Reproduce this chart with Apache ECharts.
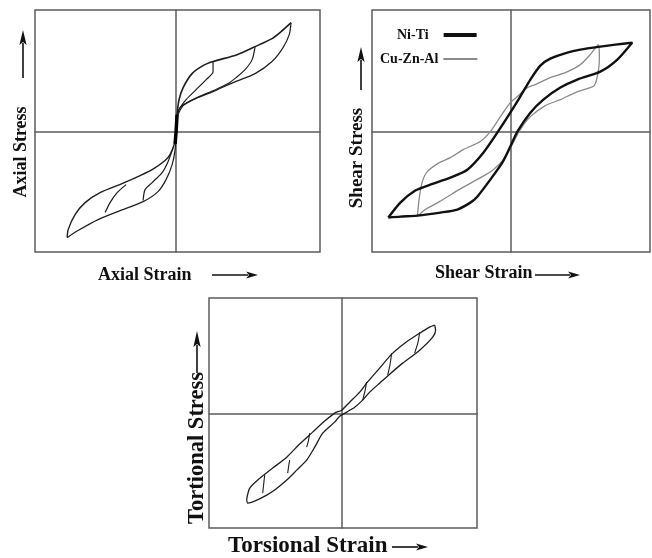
<!DOCTYPE html>
<html>
<head>
<meta charset="utf-8">
<script src="https://cdn.jsdelivr.net/npm/echarts@6/dist/echarts.min.js"></script>
<style>html,body{margin:0;padding:0;background:#fff}#c{width:652px;height:558px}</style>
</head>
<body>
<div id="c"></div>
<script>
// ---- Panel 1: Axial (normalised units) ----
const axialLoading = [[0,0],[0.7,14.0],[2.1,26.3],[5.0,36.2],[11.3,47.7],[19.1,54.3],[26.2,57.6],[43.2,63.3],[56.0,69.9],[68.0,76.5],[74.4,82.2],[81.5,89.6]];
const axialOuterReturn = [[81.5,89.6],[80.2,79.8],[75.8,69.1],[68.0,57.6],[56.0,47.7],[40.4,40.3],[26.2,32.9],[12.0,26.3],[2.8,19.7],[0.7,11.5],[0,0]];
const axialMidReturn = [[56.0,69.9],[53.9,59.2],[48.9,51.0],[42.5,44.4],[36.9,39.5],[27.0,34.0],[14.9,28.0],[5.0,21.4],[0.7,12.3]];
const axialInnerReturn = [[26.2,57.6],[26.2,49.3],[21.3,42.8],[14.2,34.5],[7.1,26.3],[2.1,18.1],[0,8.2]];
const axialCompUpper = [[0,0],[-1.4,-10.7],[-4.3,-18.9],[-7.8,-23.8],[-17.0,-31.3],[-25.5,-36.2],[-38.3,-42.8],[-53.9,-50.2],[-64.5,-58.4],[-71.6,-68.3],[-76.5,-80.6],[-77.2,-87.2]];
const axialCompLower = [[-77.2,-87.2],[-69.5,-81.4],[-55.3,-72.4],[-39.7,-65.0],[-23.4,-57.6],[-12.8,-49.3],[-7.1,-39.5],[-2.8,-27.1],[-0.7,-14.8],[0,0]];
const axialCompMid = [[-50.3,-66.6],[-46.8,-58.4],[-41.8,-50.2],[-35.4,-43.6]];
const axialCompInner = [[-23.4,-56.7],[-22.0,-47.7],[-17.0,-41.9],[-9.9,-33.7],[-5.7,-24.7],[-2.1,-13.2]];
const axialCore = [[-0.7,-10],[0,0],[0.7,14]];

// ---- Panel 2: Shear ----
const niTiLoad = [[-88.2,-70.7],[-79.5,-69.9],[-67.2,-69.1],[-50.6,-66.6],[-38.3,-64.1],[-28.9,-58.4],[-23.9,-53.5],[-14.5,-39.5],[-5.8,-25.5],[0,-12.3],[5.1,0],[14.5,15.6],[23.9,26.3],[36.2,36.2],[48.4,42.8],[65.1,49.3],[77.4,59.2],[88.2,73.2]];
const niTiUnload = [[88.2,73.2],[75.9,71.5],[65.1,69.9],[50.6,67.4],[41.2,65.0],[28.9,60.0],[21.7,54.3],[14.5,42.8],[7.2,28.8],[0,15.6],[-9.4,-0.8],[-19.5,-17.3],[-31.1,-31.3],[-43.4,-37.8],[-57.8,-43.6],[-68.7,-48.5],[-79.5,-58.4],[-88.2,-70.7]];
const cuZnAlLoad = [[-67.2,-69.9],[-61.5,-64.1],[-51.3,-57.6],[-34.7,-46.1],[-20.2,-37.0],[-12.3,-31.3],[-5.1,-23.0],[1.4,-10.7],[7.2,1.6],[14.5,12.3],[25.3,21.4],[36.2,26.3],[47.0,32.1],[57.8,36.2],[60.7,37.8],[62.9,45.2],[64.4,59.2],[63.6,71.5]];
const cuZnAlUnload = [[63.6,71.5],[57.8,63.3],[50.6,55.1],[39.8,48.5],[28.9,44.4],[18.1,38.7],[12.3,36.2],[5.1,28.8],[0,23.8],[-7.2,12.3],[-14.5,0],[-21.7,-8.2],[-34.0,-14.8],[-43.4,-21.4],[-51.3,-25.5],[-60.0,-32.9],[-63.6,-41.1],[-65.8,-54.3],[-67.2,-69.9]];

// ---- Panel 3: Torsion ----
const torsUpper = [[-71.6,-74.6],[-69.3,-65.0],[-63.3,-57.9],[-52.0,-47.4],[-41.4,-37.8],[-31.7,-26.3],[-21.9,-15.8],[-12.8,-6.1],[-5.3,0.9],[0,3.5],[6.0,10.5],[13.6,19.3],[18.8,27.2],[28.6,40.4],[37.7,52.7],[47.5,62.3],[58.8,71.1],[66.3,76.4],[70.1,78.1]];
const torsLower = [[70.1,78.1],[70.8,73.7],[68.6,67.6],[58.8,56.2],[46.0,44.8],[36.2,35.1],[28.6,27.2],[21.1,19.3],[15.8,12.3],[9.8,6.1],[3.8,1.8],[-1.5,-1.8],[-5.3,-7.0],[-14.3,-16.7],[-20.3,-29.0],[-26.4,-40.4],[-33.9,-49.2],[-41.4,-57.9],[-50.5,-66.7],[-56.5,-71.1],[-65.6,-76.4],[-70.8,-78.1],[-71.6,-74.6]];
const torsInnerA = [[58.8,72.0],[57.5,63.0],[55.0,53.6]];
const torsInnerB = [[37.7,53.6],[36.5,44.0],[34.7,34.2]];
const torsInnerC = [[18.8,28.1],[17.5,20.0],[15.8,12.3]];
const torsInnerD = [[-24.1,-16.7],[-25.0,-23.0],[-26.4,-29.0]];
const torsInnerE = [[-39.2,-40.4],[-40.0,-46.0],[-40.7,-51.8]];
const torsInnerF = [[-58.0,-53.6],[-58.8,-61.5],[-59.5,-69.4]];

const FONT = '"Liberation Serif","Times New Roman",serif';
const CROSS = '#5c5c5c';

function grid(left, top, width, height) {
  return {left, top, width, height, show: true, borderColor: CROSS, borderWidth: 1.5, backgroundColor: '#fff'};
}
function axis(i, min, max) {
  return {
    type: 'value', gridIndex: i, min, max,
    axisLine: {show: true, onZero: true, lineStyle: {color: CROSS, width: 1.5}},
    axisTick: {show: false}, axisLabel: {show: false}, splitLine: {show: false}
  };
}
function curve(name, g, data, color, width) {
  return {
    name, type: 'line', xAxisIndex: g, yAxisIndex: g, data,
    showSymbol: false, symbol: 'none', smooth: 0.25, silent: true,
    lineStyle: {color, width}, itemStyle: {color}, z: 3
  };
}
function arrow(x1, y1, x2, y2, head) {
  const dx = x2 - x1, dy = y2 - y1, L = Math.hypot(dx, dy);
  const ux = dx / L, uy = dy / L, px = -uy, py = ux;
  const bx = x2 - ux * head, by = y2 - uy * head;
  return [
    {type: 'line', shape: {x1, y1, x2: bx + ux * 2, y2: by + uy * 2}, style: {stroke: '#111', lineWidth: 1.6}},
    {type: 'polygon', shape: {points: [[x2, y2], [bx + px * 3.6, by + py * 3.6], [bx + ux * 3, by + uy * 3], [bx - px * 3.6, by - py * 3.6]]}, style: {fill: '#111'}}
  ];
}
function label(text, x, y, size, rot) {
  return {
    type: 'text', x, y, rotation: rot || 0,
    style: {text, font: 'bold ' + size + 'px ' + FONT, fill: '#111',
      align: rot ? 'center' : 'left', verticalAlign: 'middle',
      textAlign: rot ? 'center' : 'left', textVerticalAlign: 'middle'}
  };
}

const INK = '#1e1e1e';
const option = {
  animation: false,
  backgroundColor: '#fff',
  grid: [grid(35, 10, 285, 242), grid(372, 10, 278, 242), grid(209, 298, 268, 230)],
  xAxis: [axis(0, -100, 102), axis(1, -100, 101), axis(2, -100, 102)],
  yAxis: [axis(0, -99, 100), axis(1, -99, 100), axis(2, -100, 102)],
  legend: [
    {data: ['Ni-Ti'], left: 392, top: 23, align: 'right', icon: 'rect', itemWidth: 33, itemHeight: 4, itemGap: 0,
      textStyle: {fontFamily: FONT, fontWeight: 'bold', fontSize: 14, color: '#111', padding: [0, 10, 0, 0]}},
    {data: ['Cu-Zn-Al'], left: 375, top: 47, align: 'right', icon: 'rect', itemWidth: 34, itemHeight: 2, itemGap: 0,
      textStyle: {fontFamily: FONT, fontWeight: 'bold', fontSize: 14, color: '#111'}}
  ],
  series: [
    curve('a1', 0, axialLoading, INK, 1.6),
    curve('a2', 0, axialOuterReturn, INK, 1.2),
    curve('a3', 0, axialMidReturn, INK, 1.2),
    curve('a4', 0, axialInnerReturn, INK, 1.2),
    curve('a5', 0, axialCompUpper, INK, 1.4),
    curve('a6', 0, axialCompLower, INK, 1.2),
    curve('a7', 0, axialCompMid, INK, 1.2),
    curve('a8', 0, axialCompInner, INK, 1.2),
    curve('a9', 0, axialCore, '#000', 3.5),
    curve('Cu-Zn-Al', 1, cuZnAlLoad.concat(cuZnAlUnload.slice(1)), '#8a8a8a', 1.3),
    curve('Ni-Ti', 1, niTiLoad.concat(niTiUnload.slice(1)), '#111', 2.4),
    curve('t1', 2, torsUpper, INK, 1.3),
    curve('t2', 2, torsLower, INK, 1.3),
    curve('t3', 2, torsInnerA, INK, 1.1),
    curve('t4', 2, torsInnerB, INK, 1.1),
    curve('t5', 2, torsInnerC, INK, 1.1),
    curve('t6', 2, torsInnerD, INK, 1.1),
    curve('t7', 2, torsInnerE, INK, 1.1),
    curve('t8', 2, torsInnerF, INK, 1.1)
  ],
  graphic: [
    label('Axial Strain', 98, 275, 18),
    ...arrow(212, 275, 258, 275, 12),
    label('Axial Stress', 21, 152, 18, Math.PI / 2),
    ...arrow(23, 78, 23, 30, 15),
    label('Shear Strain', 435, 273, 18),
    ...arrow(535, 275, 580, 275, 12),
    label('Shear Stress', 357, 158, 19, Math.PI / 2),
    ...arrow(361, 90, 361, 47, 15),
    label('Torsional Strain', 228, 546, 23),
    ...arrow(392, 547, 428, 547, 12),
    label('Tortional Stress', 197, 448, 22.5, Math.PI / 2),
    ...arrow(197, 373, 197, 331, 16)
  ]
};
const chart = echarts.init(document.getElementById('c'), null, {renderer: 'canvas'});
chart.setOption(option);
</script>
</body>
</html>
